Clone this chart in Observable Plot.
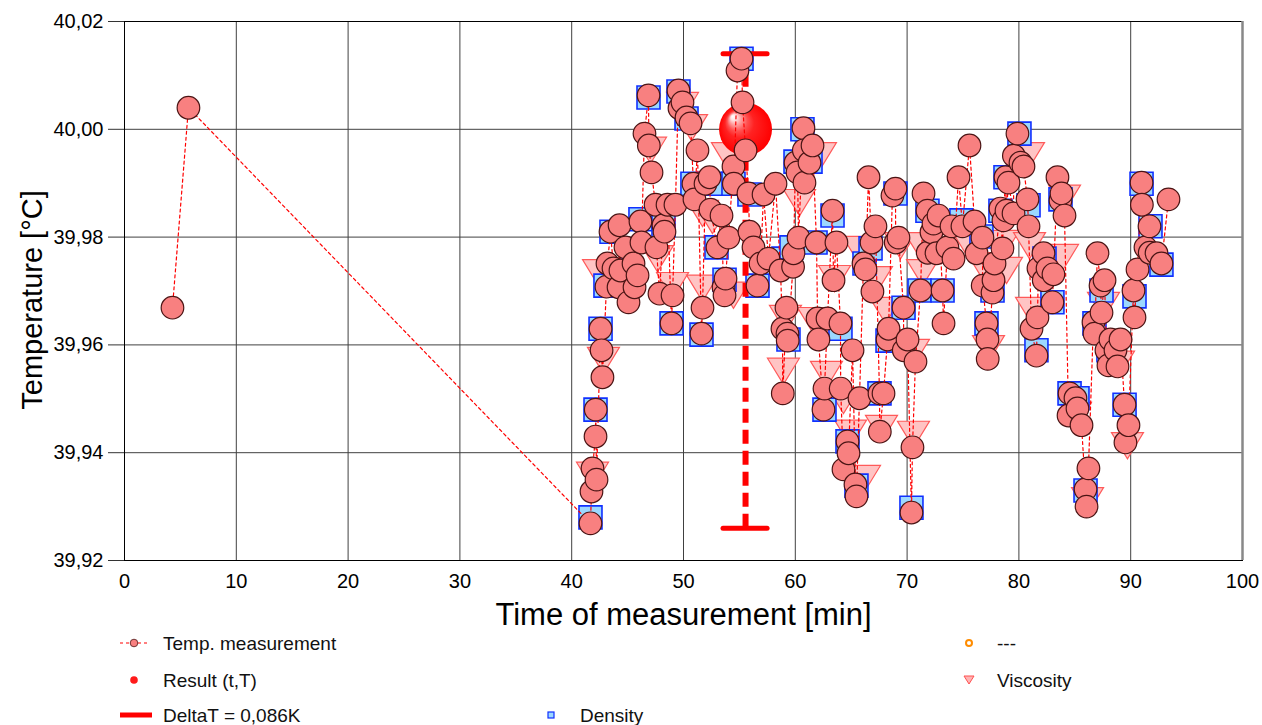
<!DOCTYPE html>
<html><head><meta charset="utf-8">
<script src="https://cdn.jsdelivr.net/npm/d3@7"></script>
<script src="https://cdn.jsdelivr.net/npm/@observablehq/plot@0.6"></script>
<style>
body{margin:0;background:#fff;font-family:"Liberation Sans",Arial,sans-serif;}
#wrap{position:relative;width:1262px;height:725px;overflow:hidden;background:#fff}
#legend{position:absolute;left:0;top:632px}
#legend text{font-size:19px;fill:#111;font-family:"Liberation Sans",Arial,sans-serif}
</style></head><body>
<div id="wrap"><div id="chart"></div>
<svg id="legend" width="1262" height="93"></svg></div>
<script>
// ---- Data (time in min, temperature in °C) ----
const measTime = [
 4.29, 5.72, 41.68, 41.77, 41.86, 42.13, 42.15, 42.22, 42.58, 42.67,
 42.75, 43.11, 43.20, 43.47, 43.74, 44.19, 44.28, 44.36, 44.81, 45.08,
 45.53, 45.62, 45.89, 46.15, 46.24, 46.51, 46.87, 46.90, 47.14, 47.50,
 47.58, 47.85, 48.21, 48.30, 48.57, 48.93, 49.02, 49.28, 49.55, 49.64,
 49.91, 50.27, 50.63, 50.89, 50.98, 51.25, 51.61, 51.70, 51.97, 52.33,
 52.41, 53.04, 53.40, 53.58, 53.67, 53.76, 54.02, 54.47, 54.50, 54.83,
 55.19, 55.28, 55.55, 55.81, 55.90, 56.26, 56.62, 56.89, 57.16, 57.60,
 58.23, 58.68, 58.85, 58.88, 59.21, 59.30, 59.32, 59.80, 59.84, 60.02,
 60.20, 60.29, 60.73, 60.76, 60.82, 61.27, 61.54, 61.90, 61.99, 62.07,
 62.52, 62.61, 62.88, 63.33, 63.42, 63.68, 64.04, 64.06, 64.31, 64.67,
 64.76, 65.12, 65.38, 65.47, 65.74, 66.10, 66.28, 66.55, 66.82, 66.90,
 67.17, 67.53, 67.56, 67.89, 68.25, 68.34, 68.69, 68.96, 68.98, 69.23,
 69.68, 69.70, 70.04, 70.39, 70.48, 70.75, 71.20, 71.47, 71.82, 71.84,
 72.18, 72.36, 72.63, 72.81, 73.17, 73.26, 73.61, 73.97, 74.15, 74.60,
 74.95, 75.58, 76.03, 76.21, 76.74, 76.76, 77.10, 77.19, 77.21, 77.64,
 77.73, 77.82, 78.35, 78.53, 78.62, 78.80, 78.89, 79.07, 79.52, 79.55,
 79.87, 80.14, 80.41, 80.77, 80.86, 81.13, 81.57, 81.66, 81.75, 82.20,
 82.22, 82.56, 83.00, 83.09, 83.45, 83.72, 83.81, 84.08, 84.44, 84.53,
 85.06, 85.24, 85.60, 85.96, 86.05, 86.22, 86.67, 86.76, 87.03, 87.30,
 87.39, 87.66, 87.83, 88.01, 88.19, 88.64, 88.82, 89.09, 89.45, 89.53,
 89.80, 90.25, 90.34, 90.61, 90.97, 91.00, 91.32, 91.68, 91.70, 92.31,
 92.75, 93.38
];
const measTemp = [
 39.9669, 40.0040, 39.9269, 39.9328, 39.9371, 39.9430, 39.9480, 39.9350, 39.9630, 39.9590,
 39.9540, 39.9708, 39.9751, 39.9810, 39.9742, 39.9707, 39.9822, 39.9738, 39.9781, 39.9679,
 39.9751, 39.9707, 39.9729, 39.9829, 39.9790, 39.9992, 40.0063, 39.9970, 39.9920, 39.9860,
 39.9781, 39.9695, 39.9822, 39.9810, 39.9860, 39.9640, 39.9692, 39.9860, 40.0072, 40.0039,
 40.0050, 40.0022, 40.0011, 39.9899, 39.9870, 39.9961, 39.9621, 39.9669, 39.9899, 39.9911,
 39.9851, 39.9781, 39.9840, 39.9707, 39.9692, 39.9723, 39.9799, 39.9931, 39.9899, 40.0109,
 40.0131, 40.0050, 39.9961, 39.9881, 39.9810, 39.9781, 39.9710, 39.9751, 39.9879, 39.9760,
 39.9899, 39.9738, 39.9630, 39.9510, 39.9669, 39.9621, 39.9608, 39.9745, 39.9770, 39.9938,
 39.9920, 39.9799, 40.0002, 39.9961, 39.9901, 39.9938, 39.9970, 39.9790, 39.9649, 39.9610,
 39.9480, 39.9519, 39.9649, 39.9849, 39.9720, 39.9790, 39.9640, 39.9519, 39.9369, 39.9421,
 39.9399, 39.9590, 39.9341, 39.9319, 39.9501, 39.9751, 39.9740, 39.9911, 39.9790, 39.9699,
 39.9820, 39.9510, 39.9439, 39.9510, 39.9610, 39.9630, 39.9877, 39.9890, 39.9790, 39.9799,
 39.9669, 39.9590, 39.9610, 39.9289, 39.9410, 39.9569, 39.9701, 39.9881, 39.9849, 39.9771,
 39.9809, 39.9825, 39.9770, 39.9840, 39.9701, 39.9640, 39.9781, 39.9820, 39.9760, 39.9911,
 39.9820, 39.9970, 39.9829, 39.9770, 39.9799, 39.9710, 39.9640, 39.9610, 39.9574, 39.9697,
 39.9720, 39.9751, 39.9853, 39.9779, 39.9831, 39.9911, 39.9849, 39.9901, 39.9844, 39.9951,
 39.9992, 39.9938, 39.9931, 39.9870, 39.9820, 39.9630, 39.9580, 39.9651, 39.9742, 39.9770,
 39.9720, 39.9742, 39.9679, 39.9731, 39.9911, 39.9868, 39.9881, 39.9840, 39.9469, 39.9510,
 39.9501, 39.9482, 39.9451, 39.9332, 39.9300, 39.9371, 39.9642, 39.9621, 39.9770, 39.9710,
 39.9660, 39.9720, 39.9590, 39.9562, 39.9610, 39.9590, 39.9560, 39.9610, 39.9489, 39.9419,
 39.9451, 39.9701, 39.9651, 39.9740, 39.9901, 39.9860, 39.9781, 39.9820, 39.9771, 39.9770,
 39.9751, 39.9870
];
const densTime = [41.68, 42.13, 42.58, 43.02, 43.56, 45.35, 46.15, 46.87, 48.21, 48.93, 49.55, 50.27, 50.80, 51.61, 52.59, 52.95, 53.67, 54.47, 55.19, 55.90, 56.62, 58.94, 59.39, 59.66, 60.02, 60.64, 61.36, 61.81, 62.61, 63.33, 64.04, 64.67, 65.47, 66.19, 66.73, 67.53, 68.25, 68.96, 69.68, 70.39, 71.11, 71.82, 73.17, 74.86, 76.65, 77.10, 77.64, 78.35, 78.80, 80.05, 80.86, 81.57, 82.29, 83.00, 83.72, 84.53, 85.24, 85.96, 86.76, 87.39, 88.01, 89.45, 90.34, 90.97, 91.77, 92.75];
const densTemp = [39.9280, 39.9480, 39.9630, 39.9710, 39.9810, 39.9738, 39.9833, 40.0059, 39.9822, 39.9640, 40.0070, 40.0020, 39.9899, 39.9619, 39.9899, 39.9781, 39.9721, 39.9899, 40.0131, 39.9879, 39.9710, 39.9760, 39.9610, 39.9781, 39.9940, 40.0000, 39.9940, 39.9790, 39.9480, 39.9840, 39.9630, 39.9421, 39.9339, 39.9751, 39.9779, 39.9510, 39.9608, 39.9881, 39.9669, 39.9298, 39.9701, 39.9849, 39.9701, 39.9831, 39.9801, 39.9640, 39.9701, 39.9849, 39.9911, 39.9992, 39.9859, 39.9590, 39.9760, 39.9679, 39.9870, 39.9510, 39.9501, 39.9330, 39.9640, 39.9701, 39.9590, 39.9489, 39.9690, 39.9899, 39.9820, 39.9749];
const viscTime = [41.86, 42.40, 42.84, 47.05, 47.67, 49.02, 49.91, 50.72, 51.70, 51.70, 52.59, 53.93, 54.47, 58.94, 59.12, 60.38, 61.63, 62.25, 62.79, 63.51, 64.31, 64.94, 65.65, 66.19, 67.26, 67.71, 68.07, 69.14, 69.41, 70.57, 70.57, 71.20, 71.38, 75.67, 76.74, 77.28, 77.91, 78.62, 78.89, 80.86, 80.95, 81.13, 83.90, 84.08, 85.06, 86.14, 87.57, 88.91, 89.71];
const viscTemp = [39.9358, 39.9734, 39.9571, 39.9961, 39.9760, 39.9710, 40.0044, 40.0003, 39.9844, 39.9705, 39.9831, 39.9951, 39.9692, 39.9551, 39.9649, 39.9864, 39.9645, 39.9951, 39.9545, 39.9723, 39.9497, 39.9436, 39.9777, 39.9352, 39.9721, 39.9445, 39.9664, 39.9604, 39.9784, 39.9586, 39.9434, 39.9784, 39.9734, 39.9779, 39.9747, 39.9593, 39.9734, 39.9788, 39.9738, 39.9951, 39.9784, 39.9664, 39.9762, 39.9872, 39.9469, 39.9311, 39.9673, 39.9564, 39.9413];
const resultTime = 55.55;
const resultTemp = 40.000;
const deltaLow = 39.926;
const deltaHigh = 40.014;
const xTicks = [0, 10, 20, 30, 40, 50, 60, 70, 80, 90, 100];
const yTicks = [39.92, 39.94, 39.96, 39.98, 40.00, 40.02];

// ---- Build ----
const meas = measTime.map((t, i) => ({t, T: measTemp[i]}));
const dens = densTime.map((t, i) => ({t, T: densTemp[i]}));
const visc = viscTime.map((t, i) => ({t, T: viscTemp[i]}));
const result = [{t: resultTime, T: resultTemp, lo: deltaLow, hi: deltaHigh}];
const caps = [{t: resultTime, T: deltaHigh}, {t: resultTime, T: deltaLow}];

const triDown = {draw(ctx, size) { const r = Math.sqrt(size / Math.PI), h = r * 0.82; ctx.moveTo(-r, -h); ctx.lineTo(r, -h); ctx.lineTo(0, h); ctx.closePath(); }};
const squareSym = {draw(ctx, size) { const r = Math.sqrt(size / Math.PI); ctx.rect(-r, -r, 2 * r, 2 * r); }};
const fmtY = d => d.toFixed(2).replace(".", ",");

const chart = Plot.plot({
  width: 1262, height: 632,
  marginLeft: 124, marginRight: 20, marginTop: 21, marginBottom: 72,
  style: {fontFamily: '"Liberation Sans", Arial, sans-serif', background: "#fff", color: "#000", overflow: "visible"},
  x: {domain: [0, 100]},
  y: {domain: [39.92, 40.02]},
  marks: [
    Plot.gridX(xTicks, {stroke: "#404040", strokeOpacity: 1, strokeWidth: 1}),
    Plot.gridY(yTicks, {stroke: "#404040", strokeOpacity: 1, strokeWidth: 1}),
    Plot.frame({stroke: "#000", strokeWidth: 1}),
    Plot.ruleX([100], {stroke: "#888", strokeWidth: 2.5}),
    Plot.axisX({ticks: xTicks, tickSize: 0, tickPadding: 13, fontSize: 20, tickFormat: d => String(d), label: null}),
    Plot.axisY({ticks: yTicks, tickSize: 16, tickPadding: 5, fontSize: 20, tickFormat: fmtY, label: null, stroke: "#333"}),
    Plot.text(["Temperature [°C]"], {frameAnchor: "left", dx: -92, dy: 9, rotate: -90, textAnchor: "middle", lineAnchor: "middle", fontSize: 29, fill: "#000"}),
    Plot.text(["Time of measurement [min]"], {frameAnchor: "bottom", dy: 55, textAnchor: "middle", lineAnchor: "middle", fontSize: 31, fill: "#000"}),
    Plot.dot(visc, {x: "t", y: "T", r: 16, symbol: triDown, fill: "#ffc4c4", stroke: "#ff5a5a", strokeWidth: 1.2}),
    Plot.dot(dens, {x: "t", y: "T", r: 11.5, symbol: squareSym, fill: "#9cd8ff", stroke: "#1030ff", strokeWidth: 1.6}),
    Plot.ruleX(result, {x: "t", y1: "lo", y2: "hi", stroke: "#ff0000", strokeWidth: 6, strokeDasharray: "14,7"}),
    Plot.ruleY(caps, {y: "T", x1: d => d.t - 1.97, x2: d => d.t + 1.97, stroke: "#ff0000", strokeWidth: 5, strokeLinecap: "round"}),
    Plot.dot(result, {x: "t", y: "T", r: 26.5, fill: "url(#sphereGrad)", stroke: "none"}),
    Plot.line(meas, {x: "t", y: "T", stroke: "#ff0000", strokeWidth: 1.2, strokeDasharray: "3,3"}),
    Plot.dot(meas, {x: "t", y: "T", r: 11.3, fill: "#f88080", stroke: "#4a1414", strokeWidth: 1.2})
  ]
});

const defs = d3.select(chart).insert("defs", ":first-child");
const grad = defs.append("radialGradient").attr("id", "sphereGrad")
  .attr("cx", "50%").attr("cy", "50%").attr("r", "50%").attr("fx", "25%").attr("fy", "25%");
[[0, "#ffffff"], [0.1, "#ffe6e6"], [0.22, "#ffa0a0"], [0.38, "#ff5050"], [0.55, "#ff2222"], [1, "#ff0000"]]
  .forEach(([o, c]) => grad.append("stop").attr("offset", o).attr("stop-color", c));

document.getElementById("chart").appendChild(chart);

// ---- Legend ----
const lg = d3.select("#legend");
const rows = [11, 48, 83];
lg.append("line").attr("x1", 120).attr("x2", 148).attr("y1", rows[0]).attr("y2", rows[0]).attr("stroke", "#ff0000").attr("stroke-width", 1.2).attr("stroke-dasharray", "3,3");
lg.append("circle").attr("cx", 134).attr("cy", rows[0]).attr("r", 3.8).attr("fill", "#f88080").attr("stroke", "#4a1414").attr("stroke-width", 0.8);
lg.append("text").attr("x", 163).attr("y", rows[0]).attr("dy", "0.35em").text("Temp. measurement");
lg.append("circle").attr("cx", 134).attr("cy", rows[1]).attr("r", 3.8).attr("fill", "#ff1a1a");
lg.append("text").attr("x", 163).attr("y", rows[1]).attr("dy", "0.35em").text("Result (t,T)");
lg.append("line").attr("x1", 120).attr("x2", 152).attr("y1", rows[2]).attr("y2", rows[2]).attr("stroke", "#ff0000").attr("stroke-width", 5);
lg.append("text").attr("x", 163).attr("y", rows[2]).attr("dy", "0.35em").text("DeltaT = 0,086K");
lg.append("rect").attr("x", 548).attr("y", rows[2] - 3).attr("width", 6).attr("height", 6).attr("fill", "#9cd8ff").attr("stroke", "#1030ff").attr("stroke-width", 1.2);
lg.append("text").attr("x", 580).attr("y", rows[2]).attr("dy", "0.35em").text("Density");
lg.append("circle").attr("cx", 969).attr("cy", rows[0]).attr("r", 3).attr("fill", "#fff").attr("stroke", "#ff8c00").attr("stroke-width", 2);
lg.append("text").attr("x", 997).attr("y", rows[0]).attr("dy", "0.35em").text("---");
lg.append("path").attr("d", `M964,${rows[1]-4}L974,${rows[1]-4}L969,${rows[1]+4}Z`).attr("fill", "#ffb4b4").attr("stroke", "#ff5050").attr("stroke-width", 1);
lg.append("text").attr("x", 997).attr("y", rows[1]).attr("dy", "0.35em").text("Viscosity");
</script>
</body></html>
